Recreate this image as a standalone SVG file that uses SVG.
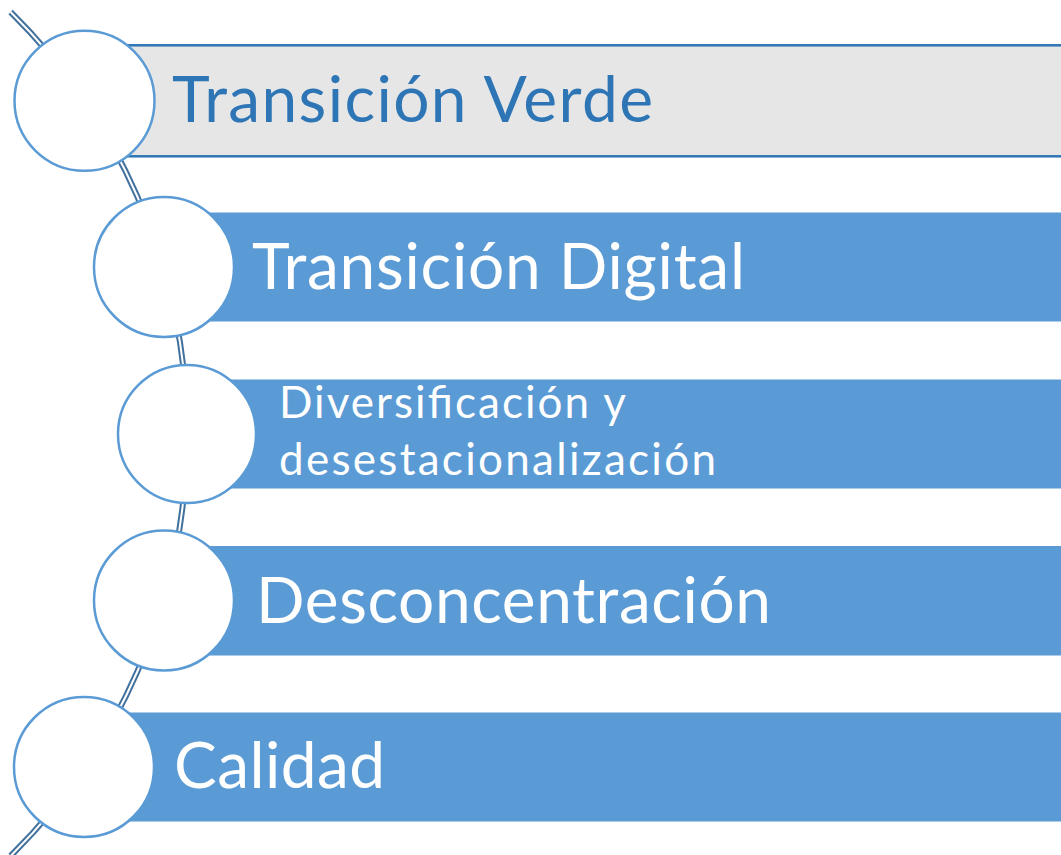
<svg xmlns="http://www.w3.org/2000/svg" width="1061" height="855" viewBox="0 0 1061 855">
<style>
.bar{fill:#5B9BD5;stroke:#5B9BD5;stroke-width:1}
.bar1{fill:#E6E6E6;stroke:#2E75B6;stroke-width:2.5}
.node{fill:#FFFFFF;stroke:#5B9BD5;stroke-width:2.5}
.t{font-family:Lato,"Open Sans","Liberation Sans",sans-serif;fill:#FFFFFF}
.big{font-size:64px}
.small{font-size:44px}
.blue{fill:#2E75B6}
</style>
<rect width="1061" height="855" fill="#FFFFFF"/>
<g id="connectors">
<path d="M 10.6 12 A 593 593 0 0 1 10.6 856" fill="none" stroke="#41719C" stroke-width="6"/>
<path d="M 10.6 12 A 593 593 0 0 1 10.6 856" fill="none" stroke="#FFFFFF" stroke-width="2"/>
</g>
<g id="node1">
<rect class="bar1" x="84" y="45.3" width="1000" height="111"/>
<circle class="node" cx="84.5" cy="100.8" r="70"/>
<text class="t big blue" x="172" y="122" textLength="481">Transición Verde</text>
</g>
<g id="node2">
<rect class="bar" x="164" y="213" width="920" height="108"/>
<circle class="node" cx="164" cy="267" r="70"/>
<text class="t big" x="252" y="289" textLength="493">Transición Digital</text>
</g>
<g id="node3">
<rect class="bar" x="187" y="380" width="900" height="108"/>
<circle class="node" cx="187" cy="434" r="69"/>
<text class="t small" x="279" y="418" textLength="347">Diversificación y</text>
<text class="t small" x="279" y="475" textLength="437">desestacionalización</text>
</g>
<g id="node4">
<rect class="bar" x="164" y="546.5" width="920" height="108.5"/>
<circle class="node" cx="164" cy="600.5" r="70"/>
<text class="t big" x="256" y="623" textLength="515">Desconcentración</text>
</g>
<g id="node5">
<rect class="bar" x="84" y="713" width="1000" height="108"/>
<circle class="node" cx="84" cy="767" r="70"/>
<text class="t big" x="174" y="788" textLength="211">Calidad</text>
</g>
</svg>
